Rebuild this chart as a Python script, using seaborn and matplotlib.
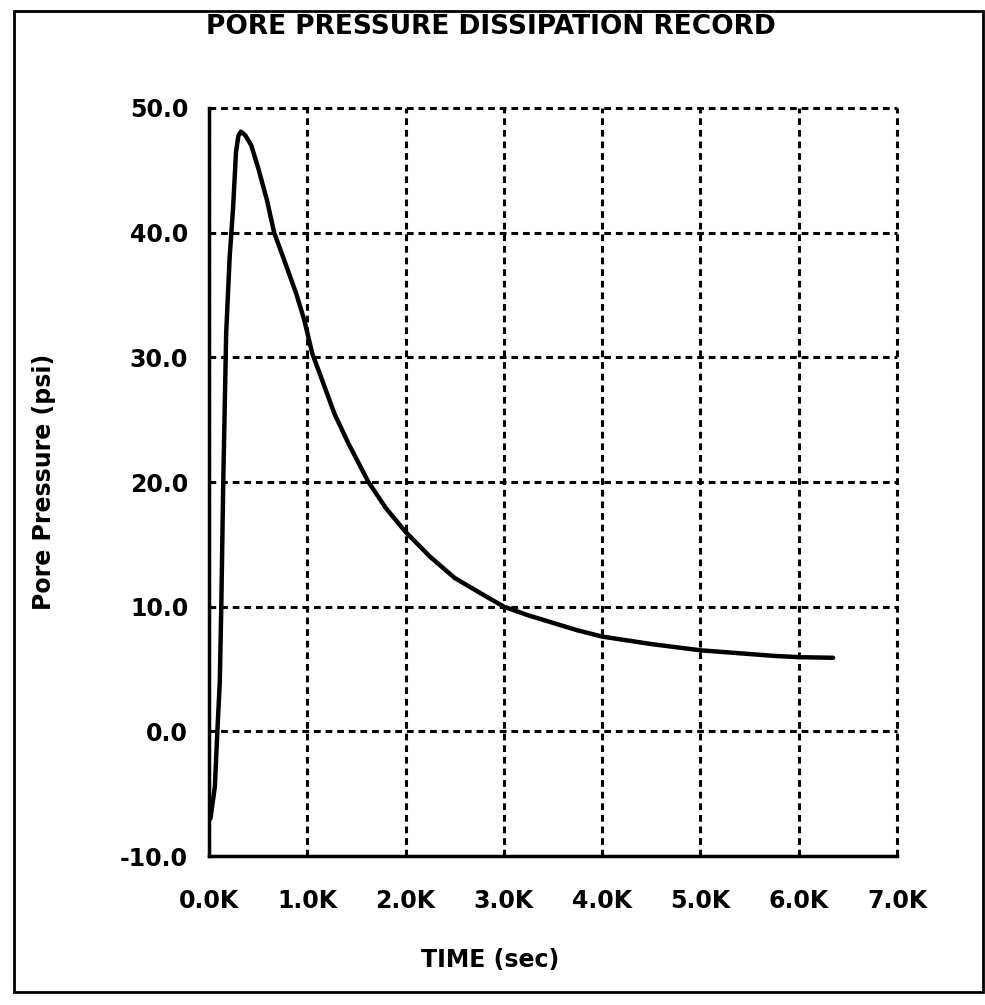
import numpy as np
import pandas as pd
import matplotlib
matplotlib.use("Agg")
import matplotlib.pyplot as plt
import seaborn as sns
from matplotlib.ticker import FuncFormatter
from matplotlib.patches import Rectangle

# ---- data ----
time_sec = [15, 60, 85, 110, 125, 145, 160, 175, 210, 245, 275, 300, 325, 370,
            430, 500, 590, 663, 765, 888, 969, 1051, 1150, 1275, 1418, 1622,
            1800, 2000, 2250, 2500, 2780, 3000, 3250, 3500, 3750, 4000, 4250,
            4500, 4750, 5000, 5500, 5750, 6000, 6350]
pore_psi = [-7.0, -4.4, 0.0, 4.0, 10.0, 20.0, 26.0, 32.0, 38.0, 42.0, 46.5,
            47.8, 48.1, 47.8, 47.0, 45.2, 42.6, 40.0, 37.8, 35.1, 33.0, 30.3,
            28.2, 25.5, 23.1, 20.0, 17.9, 16.0, 14.0, 12.3, 11.0, 10.0, 9.3,
            8.7, 8.1, 7.6, 7.3, 7.0, 6.75, 6.5, 6.2, 6.05, 5.95, 5.9]
x_ticks = [0, 1000, 2000, 3000, 4000, 5000, 6000, 7000]
y_ticks = [-10, 0, 10, 20, 30, 40, 50]

title = "PORE PRESSURE DISSIPATION RECORD"
xlabel = "TIME (sec)"
ylabel = "Pore Pressure (psi)"

df = pd.DataFrame({"t": time_sec, "p": pore_psi})

sns.set_style("white")
plt.rcParams["font.family"] = ["DejaVu Sans"]
plt.rcParams["font.weight"] = "bold"

fig = plt.figure(figsize=(9.85, 10.05), dpi=100)
ax = fig.add_axes([209/985, 1-856/1005, (897-209)/985, (856-108)/1005])

sns.lineplot(data=df, x="t", y="p", ax=ax, color="black", linewidth=3.2,
             estimator=None, sort=False)

ax.set_xlim(0, 7000)
ax.set_ylim(-10, 50)
ax.set_xticks(x_ticks)
ax.set_yticks(y_ticks)
ax.xaxis.set_major_formatter(FuncFormatter(lambda v, p: f"{v/1000:.1f}K"))
ax.yaxis.set_major_formatter(FuncFormatter(lambda v, p: f"{v:.1f}"))

ax.grid(True, color="black", linestyle=(0, (2.2, 1.6)), linewidth=2.2)
for gl in ax.get_xgridlines() + ax.get_ygridlines():
    gl.set_clip_on(False)
for s in ["top", "right"]:
    ax.spines[s].set_visible(False)
for s in ["left", "bottom"]:
    ax.spines[s].set_visible(True)
    ax.spines[s].set_color("black")
    ax.spines[s].set_linewidth(2.5)
    ax.spines[s].set_zorder(3)

ax.tick_params(axis="y", direction="out", length=11, width=2, color="black",
               pad=4, labelsize=17, labelcolor="black")
ax.tick_params(axis="x", direction="out", length=18, width=2, color="black",
               pad=6, labelsize=17, labelcolor="black")
for lab in ax.get_xticklabels() + ax.get_yticklabels():
    lab.set_fontweight("bold")

ax.set_xlabel(xlabel, fontsize=17, fontweight="bold", color="black")
ax.set_ylabel(ylabel, fontsize=17, fontweight="bold", color="black")
ax.xaxis.set_label_coords((490-209)/688, (856-948)/748)
ax.yaxis.set_label_coords((56-209)/688, 0.5)

fig.text(491/985, 1-27/1005, title, ha="center", va="center",
         fontsize=19, fontweight="bold", color="black")

# scan frame around the page
fig.patches.append(Rectangle((14/985, 1-992/1005), (983-14)/985, (992-11)/1005,
                             transform=fig.transFigure, fill=False,
                             edgecolor="black", linewidth=2))

fig.savefig("out.png", dpi=100, facecolor="white")
